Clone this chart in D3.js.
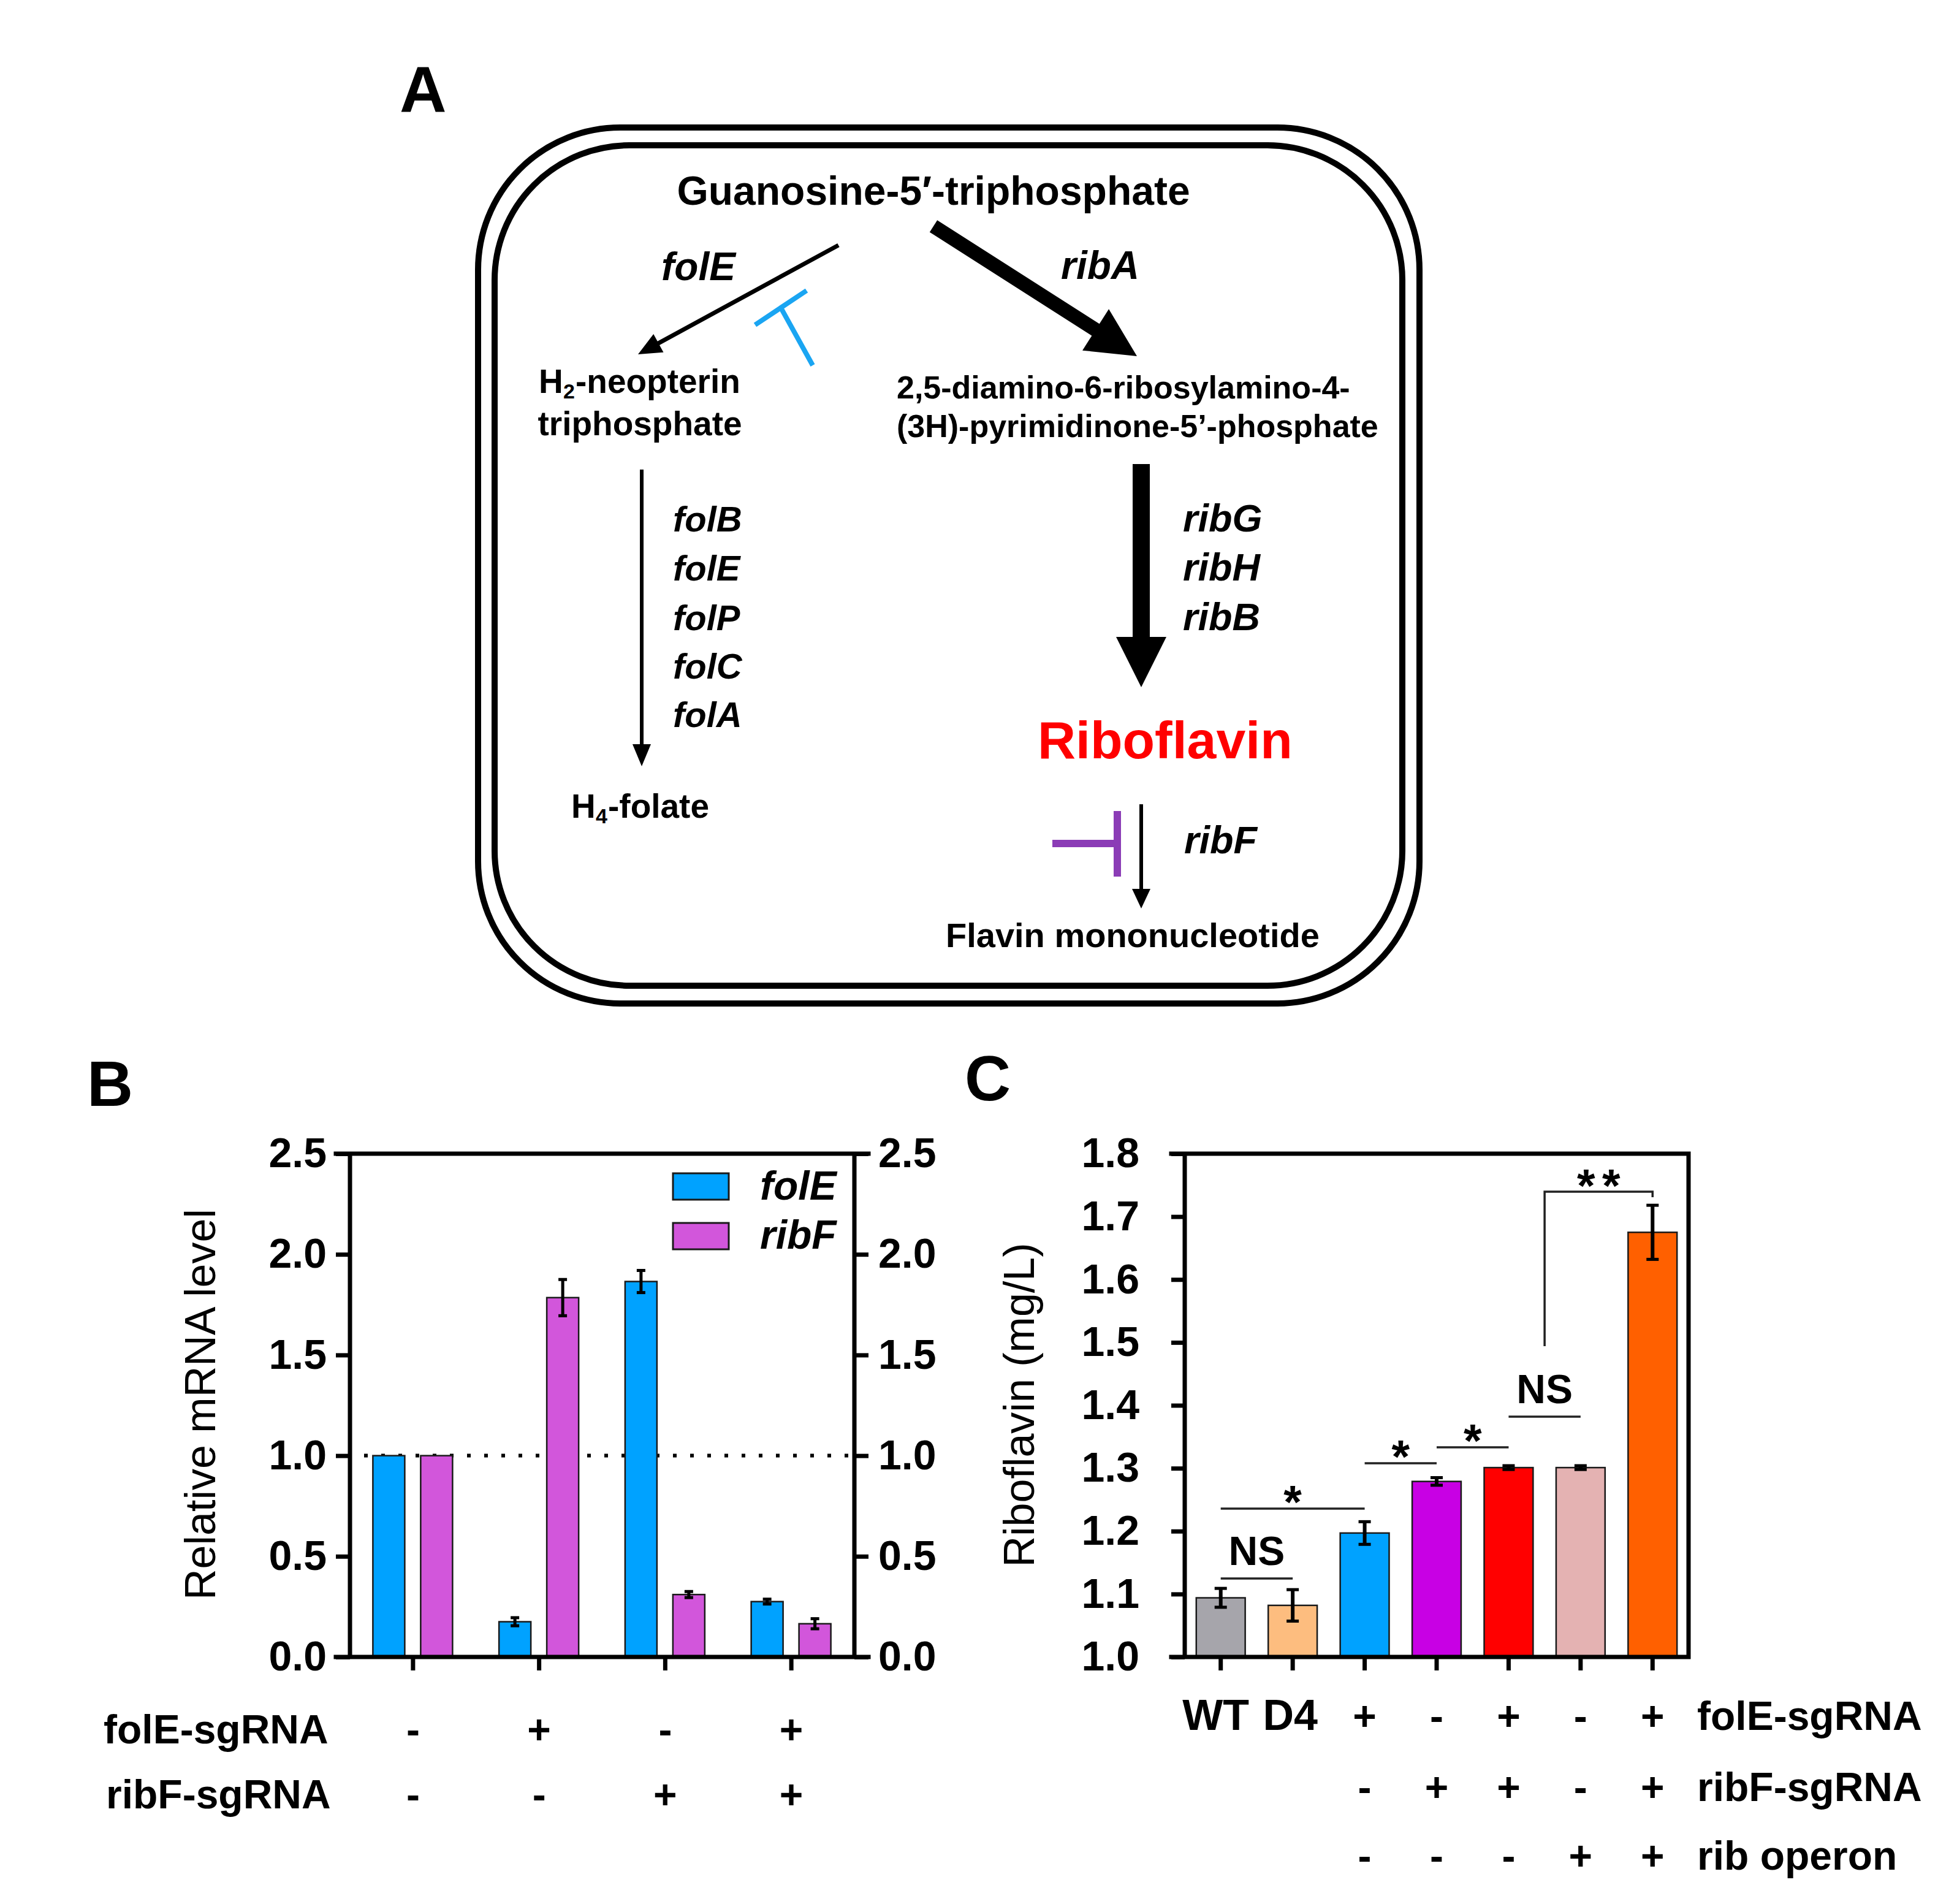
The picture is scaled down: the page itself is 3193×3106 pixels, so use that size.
<!DOCTYPE html>
<html><head><meta charset="utf-8">
<script src="https://cdn.jsdelivr.net/npm/d3@7"></script>
<style>body{margin:0;background:#fff}</style>
</head><body>
<svg id="fig" xmlns="http://www.w3.org/2000/svg"></svg>
<script>
// ---------------- Panel B data ----------------
const groupsB = ["g1", "g2", "g3", "g4"];
const seriesB = ["folE", "ribF"];
const folEValues = [1.0, 0.175, 1.865, 0.275];
const folEErrors = [0, 0.02, 0.055, 0.012];
const ribFValues = [1.0, 1.785, 0.31, 0.165];
const ribFErrors = [0, 0.09, 0.015, 0.025];
const folESgRNA_B = ["-", "+", "-", "+"];
const ribFSgRNA_B = ["-", "-", "+", "+"];
const yTicksB = [0.0, 0.5, 1.0, 1.5, 2.0, 2.5];
const refLineB = 1.0;

// ---------------- Panel C data ----------------
const strainsC = ["WT", "D4", "s3", "s4", "s5", "s6", "s7"];
const riboflavin = [1.094, 1.082, 1.197, 1.279, 1.301, 1.301, 1.675];
const riboErrors = [0.015, 0.025, 0.018, 0.006, 0.003, 0.003, 0.043];
const rowFolE_C = ["WT", "D4", "+", "-", "+", "-", "+"];
const rowRibF_C = ["", "", "-", "+", "+", "-", "+"];
const rowRibOp_C = ["", "", "-", "-", "-", "+", "+"];
const yTicksC = [1.0, 1.1, 1.2, 1.3, 1.4, 1.5, 1.6, 1.7, 1.8];
// significance: bar indices, line level (mg/L), label
const sigFrom = [0, 0, 2, 3, 4];
const sigTo = [1, 2, 3, 4, 5];
const sigLevel = [1.1247, 1.2358, 1.308, 1.3333, 1.382];
const sigLabel = ["NS", "*", "*", "*", "NS"];
const bracketTop = 1.7396, bracketLeftBottom = 1.494, bracketRightBottom = 1.7308;

// ---------------- styles ----------------
const colorsB = {folE: "#00a2ff", ribF: "#d256db"};
const colorsC = ["#a6a5ab", "#fdbd7f", "#00a2ff", "#c800e4", "#ff0000", "#e4b2b2", "#ff6000"];
const FONT = "'Liberation Sans', Arial, sans-serif";

const W = 3193, H = 3106;
const svg = d3.select("#fig").attr("width", W).attr("height", H)
  .attr("viewBox", `0 0 ${W} ${H}`).style("font-family", FONT);
svg.append("rect").attr("width", W).attr("height", H).attr("fill", "#fff");

function txt(g, s, x, y, o = {}) {
  const t = g.append("text").attr("x", x).attr("y", y).text(s)
    .attr("font-size", o.size || 60).attr("font-weight", o.weight || "bold")
    .attr("fill", o.fill || "#000").attr("text-anchor", o.anchor || "start");
  if (o.italic) t.attr("font-style", "italic");
  return t;
}
function arrowPath(x1, y1, x2, y2, sw, hl, hw) {
  const dx = x2 - x1, dy = y2 - y1, L = Math.hypot(dx, dy);
  const ux = dx / L, uy = dy / L, px = -uy, py = ux;
  const bx = x2 - ux * hl, by = y2 - uy * hl;
  const p = d3.path();
  p.moveTo(x1 + px * sw / 2, y1 + py * sw / 2);
  p.lineTo(bx + px * sw / 2, by + py * sw / 2);
  p.lineTo(bx + px * hw, by + py * hw);
  p.lineTo(x2, y2);
  p.lineTo(bx - px * hw, by - py * hw);
  p.lineTo(bx - px * sw / 2, by - py * sw / 2);
  p.lineTo(x1 - px * sw / 2, y1 - py * sw / 2);
  p.closePath();
  return p.toString();
}

// ================= Panel A =================
const A = svg.append("g");
txt(A, "A", 652, 183, {size: 106});
A.append("rect").attr("x", 780).attr("y", 208).attr("width", 1536).attr("height", 1429)
  .attr("rx", 232).attr("fill", "none").attr("stroke", "#000").attr("stroke-width", 10);
A.append("rect").attr("x", 807).attr("y", 237).attr("width", 1481).attr("height", 1371)
  .attr("rx", 220).attr("fill", "none").attr("stroke", "#000").attr("stroke-width", 10);

txt(A, "Guanosine-5′-triphosphate", 1523, 334, {size: 66, anchor: "middle"});
txt(A, "folE", 1079, 457, {size: 64, italic: true});
txt(A, "ribA", 1731, 455, {size: 64, italic: true});
// H2-neopterin with subscript as separate small text
const hx = 1044 - 165;
txt(A, "H", hx, 641, {size: 55});
txt(A, "2", hx + 40, 650, {size: 34});
txt(A, "-neopterin", hx + 60, 641, {size: 55});
txt(A, "triphosphate", 1044, 710, {size: 55, anchor: "middle"});
txt(A, "2,5-diamino-6-ribosylamino-4-", 1463, 650, {size: 52});
txt(A, "(3H)-pyrimidinone-5’-phosphate", 1463, 713, {size: 52});

const folGenes = ["folB", "folE", "folP", "folC", "folA"];
const folBase = [867, 947, 1028, 1107, 1186];
folGenes.forEach((g, i) => txt(A, g, 1098, folBase[i], {size: 58, italic: true}));
const ribGenes = ["ribG", "ribH", "ribB"];
ribGenes.forEach((g, i) => txt(A, g, 1930, folBase[i], {size: 63, italic: true}));

txt(A, "Riboflavin", 1693, 1237, {size: 86, fill: "#ff0000"});
txt(A, "H", 932, 1334, {size: 55});
txt(A, "4", 972, 1343, {size: 34});
txt(A, "-folate", 992, 1334, {size: 55});
txt(A, "ribF", 1932, 1392, {size: 63, italic: true});
txt(A, "Flavin mononucleotide", 1543, 1545, {size: 56});

// arrows
A.append("path").attr("d", arrowPath(1368, 400, 1041, 578, 7, 38, 17)).attr("fill", "#000");
A.append("path").attr("d", arrowPath(1523, 369, 1855, 581, 23, 80, 40)).attr("fill", "#000");
A.append("path").attr("d", arrowPath(1047, 766, 1047, 1250, 6, 36, 15)).attr("fill", "#000");
A.append("path").attr("d", arrowPath(1862, 757, 1862, 1121, 28, 82, 41)).attr("fill", "#000");
A.append("path").attr("d", arrowPath(1862, 1312, 1862, 1482, 6, 32, 15)).attr("fill", "#000");
// inhibitors
A.append("path").attr("d", "M1232,530L1316,474M1274,502L1326,596")
  .attr("stroke", "#1aa5f2").attr("stroke-width", 8).attr("fill", "none");
A.append("path").attr("d", "M1717,1376L1823,1376M1823,1323L1823,1430")
  .attr("stroke", "#8b3cb6").attr("stroke-width", 12).attr("fill", "none");

// ================= Panel B =================
const B = svg.append("g");
txt(B, "B", 142, 1804, {size: 104});
const xB = d3.scaleBand().domain(groupsB).range([571, 1394]).padding(0);
const xSubB = d3.scaleBand().domain(seriesB).range([-65.5, 64.5]).paddingInner(0.333);
const yB = d3.scaleLinear().domain([0, 2.5]).range([2703, 1882]);
const cB = g => xB(g) + xB.bandwidth() / 2;

// dotted reference line
B.append("line").attr("x1", 594).attr("x2", 1390).attr("y1", yB(refLineB)).attr("y2", yB(refLineB))
  .attr("stroke", "#000").attr("stroke-width", 6).attr("stroke-dasharray", "6 22");

const barsB = [];
groupsB.forEach((g, i) => {
  barsB.push({g, s: "folE", v: folEValues[i], e: folEErrors[i]});
  barsB.push({g, s: "ribF", v: ribFValues[i], e: ribFErrors[i]});
});
B.selectAll("rect.bar").data(barsB).join("rect").attr("class", "bar")
  .attr("x", d => cB(d.g) + xSubB(d.s)).attr("width", xSubB.bandwidth())
  .attr("y", d => yB(d.v)).attr("height", d => yB(0) - yB(d.v))
  .attr("fill", d => colorsB[d.s]).attr("stroke", "#1a1a1a").attr("stroke-width", 2.5);
const ebB = B.selectAll("g.eb").data(barsB.filter(d => d.e > 0)).join("g");
ebB.append("line").attr("x1", d => cB(d.g) + xSubB(d.s) + xSubB.bandwidth() / 2)
  .attr("x2", d => cB(d.g) + xSubB(d.s) + xSubB.bandwidth() / 2)
  .attr("y1", d => yB(d.v - d.e)).attr("y2", d => yB(d.v + d.e)).attr("stroke", "#000").attr("stroke-width", 5);
[-1, 1].forEach(sg => ebB.append("line")
  .attr("x1", d => cB(d.g) + xSubB(d.s) + xSubB.bandwidth() / 2 - 7)
  .attr("x2", d => cB(d.g) + xSubB(d.s) + xSubB.bandwidth() / 2 + 7)
  .attr("y1", d => yB(d.v + sg * d.e)).attr("y2", d => yB(d.v + sg * d.e))
  .attr("stroke", "#000").attr("stroke-width", 5));

// axes B
const axL = B.append("g").attr("transform", "translate(571,0)")
  .call(d3.axisLeft(yB).tickValues(yTicksB).tickSize(23).tickFormat(d3.format(".1f")).tickPadding(15));
const axR = B.append("g").attr("transform", "translate(1394,0)")
  .call(d3.axisRight(yB).tickValues(yTicksB).tickSize(23).tickFormat(d3.format(".1f")).tickPadding(16));
const axBot = B.append("g").attr("transform", "translate(0,2703)")
  .call(d3.axisBottom(xB).tickSize(22).tickFormat(""));
[axL, axR, axBot].forEach(a => {
  a.select(".domain").remove();
  a.selectAll(".tick line").attr("stroke", "#000").attr("stroke-width", 7);
  a.selectAll(".tick text").attr("font-size", 68).attr("font-weight", "bold").attr("fill", "#000")
    .attr("font-family", FONT);
});
B.append("path").attr("d", "M548,1882H1417M548,2703H1417M571,1882V2703M1394,1882V2703")
  .attr("stroke", "#000").attr("stroke-width", 7).attr("fill", "none").attr("stroke-linecap", "square");

// legend
seriesB.forEach((s, i) => {
  B.append("rect").attr("x", 1098).attr("y", 1914 + i * 81).attr("width", 91).attr("height", 43)
    .attr("fill", colorsB[s]).attr("stroke", "#1a1a1a").attr("stroke-width", 3);
  txt(B, s, 1240, 1957 + i * 80, {size: 66, italic: true});
});

// y title
B.append("text").attr("transform", "translate(351,2291) rotate(-90)").attr("text-anchor", "middle")
  .attr("font-size", 70).text("Relative mRNA level");

// condition rows
txt(B, "folE-sgRNA", 169, 2844, {size: 66});
txt(B, "ribF-sgRNA", 173, 2950, {size: 66});
groupsB.forEach((g, i) => {
  txt(B, folESgRNA_B[i], cB(g), 2844, {size: 66, anchor: "middle"});
  txt(B, ribFSgRNA_B[i], cB(g), 2950, {size: 66, anchor: "middle"});
});

// ================= Panel C =================
const C = svg.append("g");
txt(C, "C", 1574, 1795, {size: 104});
const xC = d3.scaleBand().domain(strainsC).range([1933, 2755]).paddingInner(0.32).paddingOuter(0.16);
const yC = d3.scaleLinear().domain([1.0, 1.8]).range([2703, 1882]);
const cC = i => xC(strainsC[i]) + xC.bandwidth() / 2;

C.selectAll("rect.bar").data(riboflavin).join("rect").attr("class", "bar")
  .attr("x", (d, i) => xC(strainsC[i])).attr("width", xC.bandwidth())
  .attr("y", d => yC(d)).attr("height", d => yC(1.0) - yC(d))
  .attr("fill", (d, i) => colorsC[i]).attr("stroke", "#1a1a1a").attr("stroke-width", 2.5);
riboflavin.forEach((v, i) => {
  const e = riboErrors[i], x = cC(i);
  C.append("line").attr("x1", x).attr("x2", x).attr("y1", yC(v - e)).attr("y2", yC(v + e))
    .attr("stroke", "#000").attr("stroke-width", 6);
  [-1, 1].forEach(sg => C.append("line").attr("x1", x - 10).attr("x2", x + 10)
    .attr("y1", yC(v + sg * e)).attr("y2", yC(v + sg * e)).attr("stroke", "#000").attr("stroke-width", 5));
});

const axLC = C.append("g").attr("transform", "translate(1933,0)")
  .call(d3.axisLeft(yC).tickValues(yTicksC).tickSize(22).tickFormat(d3.format(".1f")).tickPadding(52));
const axBC = C.append("g").attr("transform", "translate(0,2703)")
  .call(d3.axisBottom(xC).tickSize(22).tickFormat(""));
[axLC, axBC].forEach(a => {
  a.select(".domain").remove();
  a.selectAll(".tick line").attr("stroke", "#000").attr("stroke-width", 7);
  a.selectAll(".tick text").attr("font-size", 68).attr("font-weight", "bold").attr("fill", "#000")
    .attr("font-family", FONT);
});
C.append("path").attr("d", "M1911,1882H2755V2703H1911M1933,1882V2703")
  .attr("stroke", "#000").attr("stroke-width", 7).attr("fill", "none").attr("stroke-linecap", "square");

// significance
sigLevel.forEach((lv, k) => {
  const x1 = cC(sigFrom[k]), x2 = cC(sigTo[k]), y = yC(lv);
  C.append("line").attr("x1", x1).attr("x2", x2).attr("y1", y).attr("y2", y)
    .attr("stroke", "#222").attr("stroke-width", 3.5);
  const xm = (x1 + x2) / 2;
  if (sigLabel[k] === "NS") txt(C, "NS", xm, y - 22, {size: 66, anchor: "middle"});
  else txt(C, "*", xm, y - 28 + 0.57 * 76, {size: 76, anchor: "middle"});
});
{
  const xl = (cC(4) + cC(5)) / 2, xr = cC(6);
  C.append("path").attr("d", `M${xl},${yC(bracketLeftBottom)}V${yC(bracketTop)}H${xr}V${yC(bracketRightBottom)}`)
    .attr("stroke", "#222").attr("stroke-width", 3.5).attr("fill", "none");
  const xm = (xl + xr) / 2, yb = yC(bracketTop) - 27 + 0.57 * 76;
  txt(C, "*", xm - 20.5, yb, {size: 76, anchor: "middle"});
  txt(C, "*", xm + 20.5, yb, {size: 76, anchor: "middle"});
}

C.append("text").attr("transform", "translate(1687,2292) rotate(-90)").attr("text-anchor", "middle")
  .attr("font-size", 70).text("Riboflavin (mg/L)");

const rowsBase = [2822, 2938, 3050];
[rowFolE_C, rowRibF_C, rowRibOp_C].forEach((row, r) => {
  row.forEach((s, i) => {
    if (!s) return;
    const dx = s === "WT" ? -8 : (s === "D4" ? -4 : 0);
    txt(C, s, cC(i) + dx, rowsBase[r], {size: s.length > 1 ? 70 : 66, anchor: "middle"});
  });
});
txt(C, "folE-sgRNA", 2769, rowsBase[0], {size: 66});
txt(C, "ribF-sgRNA", 2769, rowsBase[1], {size: 66});
txt(C, "rib operon", 2769, rowsBase[2], {size: 66});
</script>
</body></html>
